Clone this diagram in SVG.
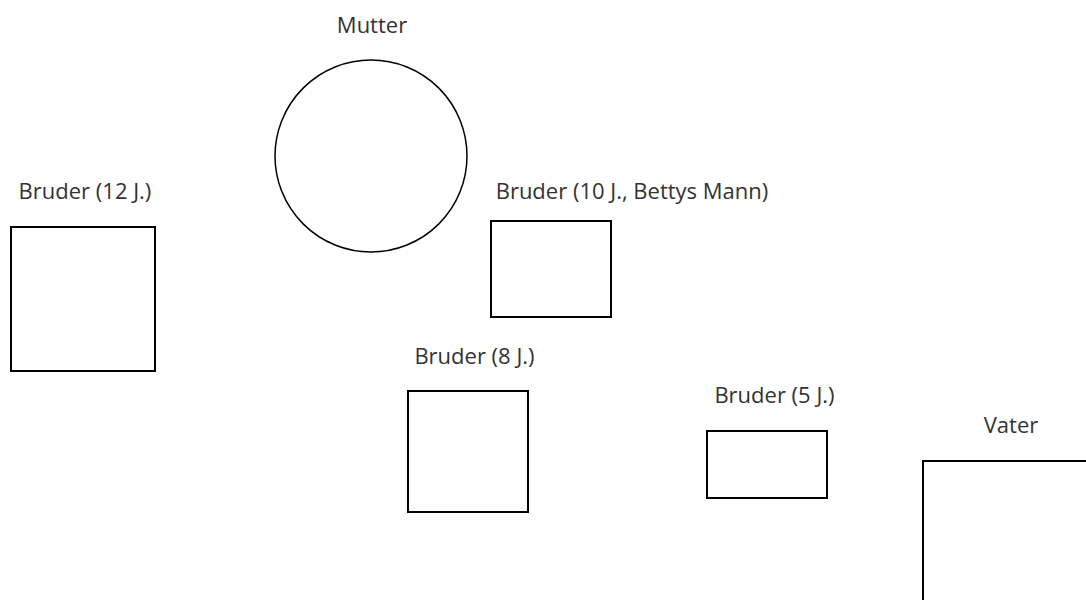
<svg xmlns="http://www.w3.org/2000/svg" width="1086" height="600" viewBox="0 0 1086 600">
<style>
.n{fill:#fff;stroke:#000;stroke-width:2}
.c{fill:#fff;stroke:#000;stroke-width:1.5}
.t{font-family:"Open Sans","Noto Sans",sans-serif;font-size:22px;fill:#333;text-anchor:middle}
</style>
<rect width="1086" height="600" fill="#fff"/>
<g id="connectors"></g>
<g id="mutter"><circle class="c" cx="371" cy="156" r="96"/><text class="t" x="372" y="33">Mutter</text></g>
<g id="bruder12"><rect class="n" x="11" y="227" width="144" height="144"/><text class="t" x="85" y="199">Bruder (12 J.)</text></g>
<g id="bruder10"><rect class="n" x="491" y="221" width="120" height="96"/><text class="t" x="632" y="199">Bruder (10 J., Bettys Mann)</text></g>
<g id="bruder8"><rect class="n" x="408" y="391" width="120" height="121"/><text class="t" x="474.5" y="364">Bruder (8 J.)</text></g>
<g id="bruder5"><rect class="n" x="707" y="431" width="120" height="67"/><text class="t" x="774.5" y="403">Bruder (5 J.)</text></g>
<g id="vater"><rect class="n" x="923" y="461" width="200" height="200"/><text class="t" x="1011" y="433">Vater</text></g>
</svg>
